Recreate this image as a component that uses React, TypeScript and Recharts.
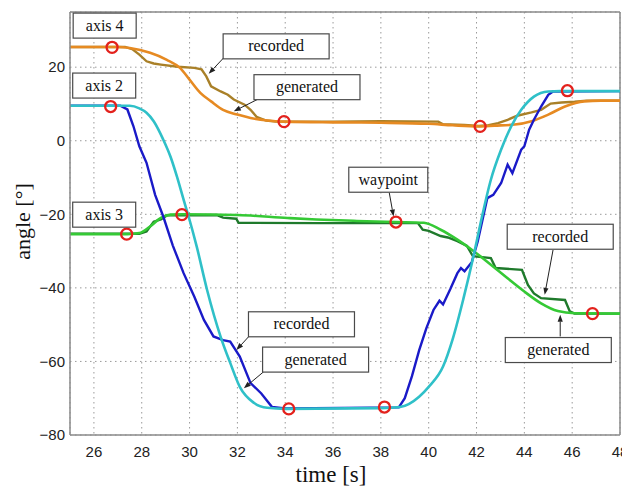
import React from 'react';
import {
  ComposedChart,
  Line,
  Scatter,
  XAxis,
  YAxis,
  CartesianGrid,
  ReferenceLine,
  ReferenceDot,
  Label,
} from 'recharts';

type P = [number, number];

// ---- data (time [s], angle [deg]) ----
const axis4Recorded: P[] = [
  [25, 25.5], [27.3, 25.5], [27.6, 24.9], [27.9, 23.4], [28.2, 21.6], [28.5, 21.0], [28.8, 20.7],
  [29.5, 20.1], [30.2, 19.8], [30.5, 19.4], [30.7, 17.5], [30.9, 14.8], [31.3, 13.4], [31.6, 12.5],
  [31.85, 11.2], [32.3, 9.8], [32.55, 8.4], [32.8, 6.5], [33.2, 5.5], [33.6, 5.2], [36, 5.2],
  [38, 5.3], [40.4, 5.2], [40.6, 4.5], [41.5, 4.3], [42.1, 4.0], [42.5, 4.2], [42.9, 4.8],
  [43.3, 5.7], [43.7, 6.8], [44.3, 7.7], [44.7, 8.4], [45.1, 10.1], [45.55, 10.4], [46.1, 10.6],
  [46.6, 10.9], [48, 10.9],
];
const axis4Generated: P[] = [
  [25, 25.5], [27.0, 25.5], [27.5, 25.2], [28.35, 23.9], [29.05, 22.0], [29.6, 19.8], [30.0, 16.6],
  [30.45, 13.0], [30.9, 10.7], [31.4, 8.4], [32.0, 7.1], [32.55, 6.2], [33.25, 5.5], [34, 5.2],
  [36, 5.0], [38, 4.9], [40, 4.6], [41, 4.2], [42.1, 3.9], [42.75, 4.1], [43.6, 4.4], [44.3, 5.3],
  [45.0, 7.1], [45.7, 9.3], [46.5, 10.7], [47.2, 10.9], [48, 10.9],
];
const axis2Recorded: P[] = [
  [25, 9.5], [27.1, 9.5], [27.4, 8.5], [27.65, 4], [27.9, -1.5], [28.2, -6], [28.56, -14.7],
  [28.9, -20.6], [29.3, -28.5], [29.75, -36], [30.2, -42.4], [30.6, -48.7], [31.0, -53.2],
  [31.4, -54.2], [31.7, -54.6], [32.1, -58.7], [32.55, -65.9], [33.0, -68.7], [33.45, -72.4],
  [34, -72.8], [38.75, -72.5], [39.0, -70], [39.3, -64], [39.6, -57], [39.9, -51], [40.2, -46],
  [40.45, -43.5], [40.6, -44.5], [40.9, -40.4], [41.2, -36], [41.35, -34.6], [41.5, -35.5],
  [41.8, -33], [42.05, -27.4], [42.45, -15.6], [42.7, -14.7], [43.03, -11.5], [43.3, -6.5],
  [43.5, -8.8], [43.87, -2.4], [44.0, -1.5], [44.2, 3], [44.4, 5.7], [44.7, 9.3], [45.0, 12.5],
  [45.2, 13.4], [48, 13.5],
];
const axis2Generated: P[] = [
  [25, 9.5], [27.5, 9.5], [27.9, 8.8], [28.2, 7.6], [28.5, 5.3], [28.9, 0.3], [29.2, -4.3],
  [29.47, -9.7], [29.75, -16], [29.96, -20.6], [30.3, -28.8], [30.73, -40.5], [31.3, -53.3],
  [31.7, -60.4], [32.1, -66.9], [32.7, -71.3], [33.25, -72.6], [34, -72.9], [38, -72.7],
  [38.8, -72.4], [39.6, -69.6], [40.0, -66.9], [40.6, -61.4], [41.0, -54], [41.45, -43],
  [41.9, -30.6], [42.2, -21.5], [42.6, -10.6], [43.03, -2.4], [43.45, 3.9], [43.87, 8.4],
  [44.4, 12], [45, 13.4], [45.5, 13.5], [48, 13.5],
];
const axis3Recorded: P[] = [
  [25, -25.3], [27.9, -25.3], [28.2, -24.7], [28.5, -22], [28.8, -21.4], [29.05, -20.3],
  [31.15, -20.2], [31.4, -20.9], [31.95, -21.2], [32.05, -22.3], [35.4, -22.4], [39.55, -22.4],
  [39.75, -24.2], [40.0, -24.5], [40.5, -25.9], [40.8, -26.3], [41.2, -27.3], [41.6, -28.6],
  [41.85, -31.4], [42.6, -31.9], [42.8, -34.6], [43.9, -35.1], [44.15, -39.2], [44.4, -41.5],
  [44.7, -42.8], [45.7, -43.3], [45.9, -46.4], [46.1, -47], [48, -47],
];
const axis3Generated: P[] = [
  [25, -25.4], [27.4, -25.4], [27.9, -25.1], [28.35, -23.3], [28.8, -21], [29.2, -20.1],
  [29.7, -20], [32, -20.2], [34.1, -21], [35.3, -21.4], [37, -21.8], [38.6, -22.1], [39.8, -22.3],
  [40.5, -24.2], [41.2, -26.9], [41.9, -30.1], [42.6, -33.7], [43.3, -37.4], [44, -41],
  [44.7, -44.2], [45.4, -46.3], [46.1, -46.9], [48, -47],
];
const waypoints: P[] = [
  [26.76, 25.4], [33.95, 5.2], [42.15, 3.9],
  [26.7, 9.3], [34.15, -72.9], [38.15, -72.4], [45.8, 13.6],
  [27.37, -25.4], [29.68, -20.1], [38.63, -22.1], [46.85, -47.0],
];

const xTicks = [26, 28, 30, 32, 34, 36, 38, 40, 42, 44, 46, 48];
const yTicks = [-80, -60, -40, -20, 0, 20];

// annotation labels (anchored at box centre in data coordinates)
const labelTexts = ['axis 4', 'axis 2', 'axis 3', 'recorded', 'generated', 'waypoint', 'recorded', 'generated', 'recorded', 'generated'];
const labelTimes = [26.45, 26.43, 26.43, 33.62, 34.91, 38.31, 45.5, 45.42, 34.68, 35.27];
const labelAngles = [31.3, 15.0, -20.1, 25.66, 14.56, -10.6, -26.1, -56.9, -49.9, -59.5];

// annotation arrows: start (box edge) -> tip (on curve)
const arrowFrom: P[] = [[31.42, 22.5], [32.83, 11.2], [38.35, -14.1], [45.2, -29.7], [45.5, -53.2], [32.48, -53.2], [33.1, -62.8]];
const arrowTo: P[] = [[30.8, 18.2], [31.85, 8.0], [38.53, -20.6], [44.85, -41.9], [45.5, -47.3], [31.96, -56.9], [32.27, -67.3]];

// ---- styling ----
const boxWidth: Record<string, number> = { 'axis 4': 63, 'axis 2': 63, 'axis 3': 63, recorded: 106, generated: 106, waypoint: 79 };
const SERIF = '"Liberation Serif", "Times New Roman", serif';
const SANS = '"Liberation Sans", Arial, Helvetica, sans-serif';
const FRAME = '#8a8a8a';

const toPts = (a: P[]) => a.map(([t, v]) => ({ t, v }));

const fmtY = (v: number) => (v < 0 ? '\u2212' + Math.abs(v) : String(v));

const WaypointShape = (p: any) => (
  <circle cx={p.cx} cy={p.cy} r={5.5} fill="none" stroke="#e3211c" strokeWidth={2.3} />
);

const makeBox = (text: string) => (p: any) => {
  const w = boxWidth[text] ?? 100;
  const h = 25;
  return (
    <g>
      <rect x={p.cx - w / 2} y={p.cy - h / 2} width={w} height={h} fill="#ffffff" stroke="#4a4a4a" strokeWidth={1.2} />
      <text x={p.cx} y={p.cy + 5} textAnchor="middle" fontFamily={SERIF} fontSize={16} fill="#111">
        {text}
      </text>
    </g>
  );
};

const ArrowShape = (p: any) => {
  const { x1, y1, x2, y2 } = p;
  const dx = x2 - x1;
  const dy = y2 - y1;
  const len = Math.sqrt(dx * dx + dy * dy) || 1;
  const ux = dx / len;
  const uy = dy / len;
  const hl = 7;
  const hw = 2.6;
  const bx = x2 - ux * hl;
  const by = y2 - uy * hl;
  const pts = `${x2},${y2} ${bx - uy * hw},${by + ux * hw} ${bx + uy * hw},${by - ux * hw}`;
  return (
    <g>
      <line x1={x1} y1={y1} x2={bx} y2={by} stroke="#222" strokeWidth={1} />
      <polygon points={pts} fill="#222" />
    </g>
  );
};

const XTitle = (props: any) => {
  const vb = props.viewBox || {};
  return (
    <text x={vb.x + vb.width / 2 - 14} y={vb.y + 47} textAnchor="middle" fontFamily={SERIF} fontSize={23} fill="#111">
      time [s]
    </text>
  );
};

const YTitle = (props: any) => {
  const vb = props.viewBox || {};
  const cx = 22;
  const cy = vb.y + vb.height / 2 - 2;
  return (
    <text x={cx} y={cy} transform={`rotate(-90 ${cx} ${cy})`} textAnchor="middle" fontFamily={SERIF} fontSize={22} fill="#111">
      angle [°]
    </text>
  );
};

export default function App() {
  return (
    <ComposedChart width={622} height={478} margin={{ top: 4, right: 10, bottom: 0, left: 0 }}>
      <CartesianGrid stroke="#9a9a9a" strokeDasharray="1.5 3.5" strokeWidth={1} />
      <XAxis
        type="number"
        dataKey="t"
        domain={[25, 48]}
        ticks={xTicks}
        allowDataOverflow
        height={51}
        tickLine={false}
        tickSize={6}
        tickMargin={5}
        axisLine={{ stroke: FRAME, strokeWidth: 1.5 }}
        tick={{ fill: '#222', fontSize: 15, fontFamily: SANS }}
      >
        <Label content={XTitle} />
      </XAxis>
      <YAxis
        type="number"
        dataKey="v"
        domain={[-80, 35]}
        ticks={yTicks}
        allowDataOverflow
        width={62}
        tickLine={false}
        tickSize={3}
        tickMargin={2}
        tickFormatter={fmtY}
        axisLine={{ stroke: FRAME, strokeWidth: 1.5 }}
        tick={{ fill: '#222', fontSize: 15, fontFamily: SANS }}
      >
        <Label content={YTitle} />
      </YAxis>
      <ReferenceLine y={35} stroke={FRAME} strokeWidth={1.5} />
      <ReferenceLine x={48} stroke={FRAME} strokeWidth={1.5} />

      <Line data={toPts(axis3Recorded)} dataKey="v" type="linear" stroke="#1f7a2c" strokeWidth={2.4} dot={false} isAnimationActive={false} />
      <Line data={toPts(axis3Generated)} dataKey="v" type="monotone" stroke="#35c935" strokeWidth={2.6} dot={false} isAnimationActive={false} />
      <Line data={toPts(axis4Recorded)} dataKey="v" type="linear" stroke="#a98028" strokeWidth={2.4} dot={false} isAnimationActive={false} />
      <Line data={toPts(axis4Generated)} dataKey="v" type="monotone" stroke="#e68a22" strokeWidth={2.6} dot={false} isAnimationActive={false} />
      <Line data={toPts(axis2Recorded)} dataKey="v" type="linear" stroke="#1a1ac8" strokeWidth={2.4} dot={false} isAnimationActive={false} />
      <Line data={toPts(axis2Generated)} dataKey="v" type="monotone" stroke="#2fc0c8" strokeWidth={2.6} dot={false} isAnimationActive={false} />

      <Scatter data={toPts(waypoints)} dataKey="v" shape={WaypointShape} isAnimationActive={false} />

      {arrowFrom.map((f, i) => (
        <ReferenceLine
          key={`a${i}`}
          segment={[{ x: f[0], y: f[1] }, { x: arrowTo[i][0], y: arrowTo[i][1] }]}
          shape={ArrowShape}
          ifOverflow="visible"
        />
      ))}
      {labelTexts.map((txt, i) => (
        <ReferenceDot
          key={`b${i}`}
          x={labelTimes[i]}
          y={labelAngles[i]}
          r={1}
          ifOverflow="visible"
          shape={makeBox(txt)}
        />
      ))}
    </ComposedChart>
  );
}
